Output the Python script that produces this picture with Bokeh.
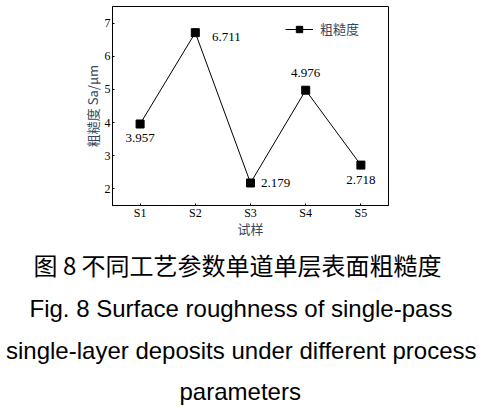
from bokeh.plotting import figure
from bokeh.models import (ColumnDataSource, FactorRange, Range1d, FixedTicker,
                          Legend, LegendItem, Title)
from bokeh.embed import file_html
from bokeh.resources import INLINE

# ---- data ----
samples = ["S1", "S2", "S3", "S4", "S5"]
roughness = [3.957, 6.711, 2.179, 4.976, 2.718]
value_labels = ["3.957", "6.711", "2.179", "4.976", "2.718"]
y_ticks = [2, 3, 4, 5, 6, 7]

series_name = "粗糙度"
x_title = "试样"
y_title = "粗糙度 Sa/μm"
caption_cn = "图 8 不同工艺参数单道单层表面粗糙度"
caption_en = ["Fig. 8 Surface roughness of single-pass",
              "single-layer deposits under different process",
              "parameters"]

# label placement (screen-pixel offsets, style only)
lab_dx = [0, 31, 25, 0, 0]
lab_dy = [14, 4, 0, -17, 15]

AXIS_COL = "#34495e"

src = ColumnDataSource(dict(x=samples, y=roughness, t=value_labels,
                            dx=lab_dx, dy=lab_dy))

p = figure(x_range=FactorRange(factors=samples, range_padding=0),
           y_range=Range1d(1.5, 7.5),
           frame_width=276, frame_height=199,
           min_border_left=112, min_border_right=94,
           min_border_top=6, min_border_bottom=206,
           output_backend="svg", toolbar_location=None)
p.background_fill_color = "white"
p.border_fill_color = "white"
p.outline_line_color = "black"
p.outline_line_width = 1
p.grid.visible = False

ln = p.line("x", "y", source=src, line_color="black", line_width=1)
sc = p.scatter("x", "y", source=src, marker="square", size=8,
               fill_color="black", line_color="black")
p.text("x", "y", text="t", source=src, x_offset="dx", y_offset="dy",
       text_align="center", text_baseline="middle",
       text_font="Liberation Serif", text_font_size="13px", text_color="black")

for ax in (p.xaxis[0], p.yaxis[0]):
    ax.axis_line_color = "black"
    ax.major_tick_in = 2
    ax.major_tick_out = 0
    ax.minor_tick_line_color = None
    ax.major_label_text_font = "Liberation Serif"
    ax.major_label_text_font_size = "12px"
    ax.major_label_text_color = "black"
    ax.axis_label_text_font = "Noto Sans CJK SC"
    ax.axis_label_text_font_size = "13px"
    ax.axis_label_text_font_style = "normal"
    ax.axis_label_text_color = AXIS_COL

p.yaxis[0].ticker = FixedTicker(ticks=y_ticks)
p.yaxis[0].major_label_standoff = 2
p.yaxis[0].axis_label = y_title
p.yaxis[0].axis_label_standoff = 0
p.xaxis[0].axis_label = x_title
p.xaxis[0].major_label_standoff = 0
p.xaxis[0].axis_label_standoff = -4

leg = Legend(items=[LegendItem(label=series_name, renderers=[ln, sc])],
             location=(173, 167), padding=0, margin=0, spacing=0,
             glyph_width=28, glyph_height=16, label_height=16,
             label_standoff=7, label_text_font="Noto Sans CJK SC",
             label_text_font_size="13px", label_text_color=AXIS_COL,
             border_line_alpha=0, background_fill_alpha=0)
p.add_layout(leg)

# ---- caption as titles stacked below the x axis ----
# (offset: horizontal shift from the frame's left edge, standoff: gap above)
p.add_layout(Title(text=caption_cn, align="left", offset=-79, standoff=9,
                   text_font="Noto Sans CJK SC", text_font_size="24px",
                   text_font_style="normal", text_color="black"), "below")
for line, off, so in zip(caption_en, [-83, -106.5, 67], [13, 12, 13]):
    p.add_layout(Title(text=line, align="left", offset=off, standoff=so,
                       text_font="Liberation Sans", text_font_size="24px",
                       text_font_style="normal", text_color="black"), "below")

open("out.html", "w").write(file_html(p, INLINE))
